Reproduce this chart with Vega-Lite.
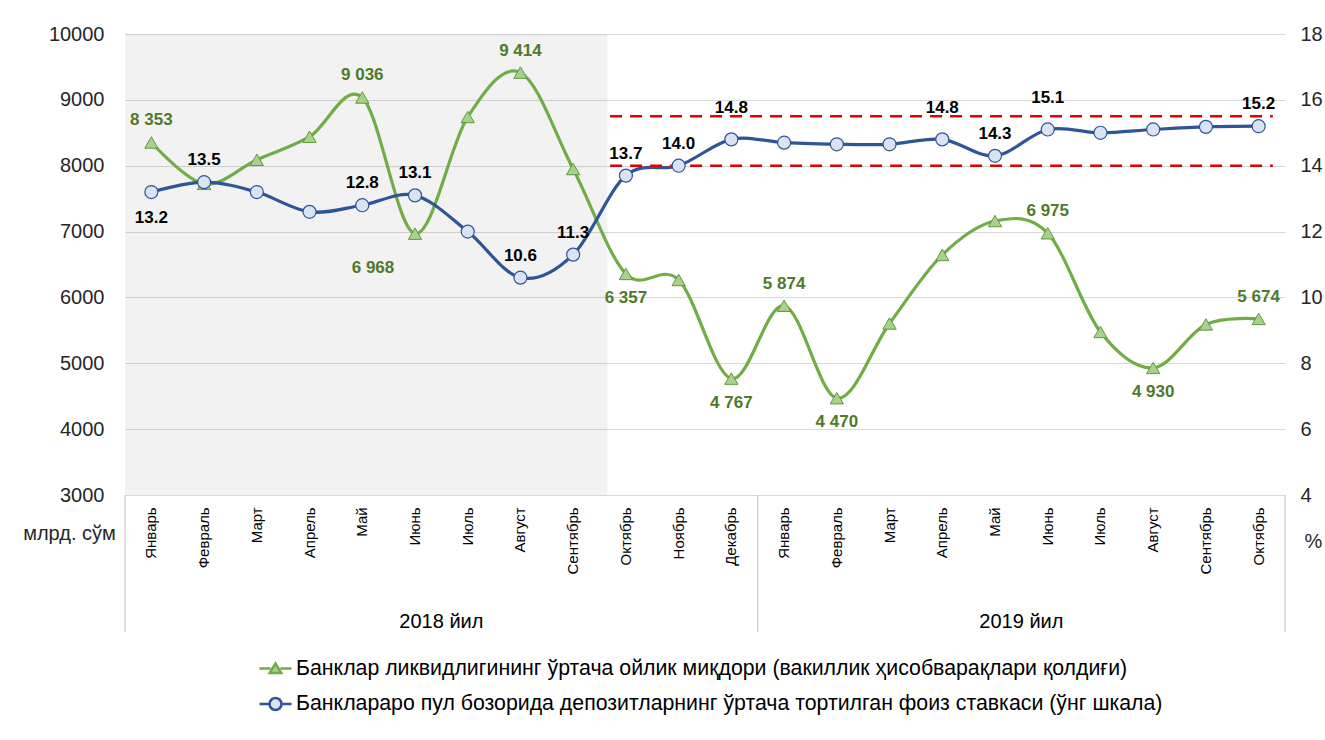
{
  "$schema": "https://vega.github.io/schema/vega-lite/v6.json",
  "background": "white",
  "padding": {"left": 22, "top": 24, "right": 0, "bottom": 0},
  "bounds": "flush",
  "spacing": 0,
  "config": {
    "locale": {"number": {"decimal": ".", "thousands": " ", "grouping": [3], "currency": ["", ""]}},
    "font": "Liberation Sans",
    "view": {"stroke": null}
  },
  "datasets": {
    "months": [
      {"i": 0, "m": "Январь", "yr": "2018 йил", "liq": 8353, "rate": 13.2},
      {"i": 1, "m": "Февраль", "yr": "2018 йил", "liq": 7725, "rate": 13.5},
      {"i": 2, "m": "Март", "yr": "2018 йил", "liq": 8090, "rate": 13.2},
      {"i": 3, "m": "Апрель", "yr": "2018 йил", "liq": 8440, "rate": 12.6},
      {"i": 4, "m": "Май", "yr": "2018 йил", "liq": 9036, "rate": 12.8},
      {"i": 5, "m": "Июнь", "yr": "2018 йил", "liq": 6968, "rate": 13.1},
      {"i": 6, "m": "Июль", "yr": "2018 йил", "liq": 8740, "rate": 12.0},
      {"i": 7, "m": "Август", "yr": "2018 йил", "liq": 9414, "rate": 10.6},
      {"i": 8, "m": "Сентябрь", "yr": "2018 йил", "liq": 7950, "rate": 11.3},
      {"i": 9, "m": "Октябрь", "yr": "2018 йил", "liq": 6357, "rate": 13.7},
      {"i": 10, "m": "Ноябрь", "yr": "2018 йил", "liq": 6265, "rate": 14.0},
      {"i": 11, "m": "Декабрь", "yr": "2018 йил", "liq": 4767, "rate": 14.8},
      {"i": 12, "m": "Январь", "yr": "2019 йил", "liq": 5874, "rate": 14.7},
      {"i": 13, "m": "Февраль", "yr": "2019 йил", "liq": 4470, "rate": 14.65},
      {"i": 14, "m": "Март", "yr": "2019 йил", "liq": 5605, "rate": 14.65},
      {"i": 15, "m": "Апрель", "yr": "2019 йил", "liq": 6645, "rate": 14.8},
      {"i": 16, "m": "Май", "yr": "2019 йил", "liq": 7160, "rate": 14.3},
      {"i": 17, "m": "Июнь", "yr": "2019 йил", "liq": 6975, "rate": 15.1},
      {"i": 18, "m": "Июль", "yr": "2019 йил", "liq": 5475, "rate": 15.0},
      {"i": 19, "m": "Август", "yr": "2019 йил", "liq": 4930, "rate": 15.1},
      {"i": 20, "m": "Сентябрь", "yr": "2019 йил", "liq": 5590, "rate": 15.18},
      {"i": 21, "m": "Октябрь", "yr": "2019 йил", "liq": 5674, "rate": 15.2}
    ],
    "shade": [{"from": -0.5, "to": 8.65}],
    "corridor": [{"lvl": 15.5, "from": 8.7, "to": 21.27}, {"lvl": 14.0, "from": 8.7, "to": 21.27}],
    "bounds": [{"b": -0.5}, {"b": 11.5}, {"b": 21.5}]
  },
  "vconcat": [
    {
      "width": 1160,
      "height": 461,
      "data": {"name": "months"},
      "layer": [
        {
          "layer": [
            {
              "data": {"name": "shade"},
              "mark": {"type": "rect", "fill": "#000000", "opacity": 0.05},
              "encoding": {
                "x": {"field": "from", "type": "quantitative", "scale": {"domain": [-0.5, 21.5], "nice": false, "zero": false}, "axis": null},
                "x2": {"field": "to"}
              }
            },
            {
              "mark": {"type": "line", "interpolate": "cardinal", "tension": 0, "strokeWidth": 3.2},
              "encoding": {
                "x": {"field": "i", "type": "quantitative", "scale": {"domain": [-0.5, 21.5], "nice": false, "zero": false}, "axis": null},
                "y": {
                  "field": "liq", "type": "quantitative",
                  "scale": {"domain": [3000, 10000], "nice": false, "zero": false},
                  "axis": {
                    "values": [3000, 4000, 5000, 6000, 7000, 8000, 9000, 10000],
                    "format": "d", "labelFontSize": 20, "labelPadding": 21, "labelColor": "#262626",
                    "labelFont": "Liberation Sans",
                    "ticks": false, "domain": false, "grid": true, "gridColor": "#D9D9D9", "gridWidth": 1,
                    "title": "млрд. сўм", "titleAngle": 0, "titleX": -56, "titleY": 499,
                    "titleAlign": "center", "titleBaseline": "middle", "titleFontSize": 20,
                    "titleFontWeight": "normal", "titleColor": "#262626", "titleFont": "Liberation Sans"
                  }
                },
                "color": {
                  "datum": "Банклар ликвидлигининг ўртача ойлик миқдори (вакиллик ҳисобварақлари қолдиғи)",
                  "type": "nominal",
                  "scale": {
                    "domain": [
                      "Банклар ликвидлигининг ўртача ойлик миқдори (вакиллик ҳисобварақлари қолдиғи)",
                      "Банклараро пул бозорида депозитларнинг ўртача тортилган фоиз ставкаси (ўнг шкала)"
                    ],
                    "range": ["#70AD47", "#2F5597"]
                  },
                  "legend": {
                    "orient": "none", "legendX": 139, "legendY": 623, "direction": "vertical", "title": null,
                    "symbolSize": 400, "labelFontSize": 21.3, "labelFont": "Liberation Sans", "labelColor": "#000000",
                    "labelOffset": 9, "rowPadding": 13.5, "labelLimit": 1300,
                    "encode": {
                      "symbols": {
                        "update": {
                          "shape": {"signal": "scale('color', datum.value) == '#70AD47' ? 'M-1.6,0H-0.5M0.5,0H1.6M0,-0.5L0.58,0.45L-0.58,0.45Z' : 'M-1.6,0H-0.6M0.6,0H1.6M0.6,0A0.6,0.6 0 1 1 -0.6,0A0.6,0.6 0 1 1 0.6,0Z'"},
                          "fill": {"signal": "scale('color', datum.value) == '#70AD47' ? '#A9D18E' : '#DAE3F3'"},
                          "stroke": {"signal": "scale('color', datum.value)"},
                          "strokeWidth": {"value": 2.5},
                          "opacity": {"value": 1}
                        }
                      }
                    }
                  }
                }
              }
            },
            {
              "mark": {"type": "point", "shape": "triangle-up", "filled": true, "fill": "#A9D18E", "stroke": "#5E9A3A", "strokeWidth": 1, "size": 175, "opacity": 1},
              "encoding": {
                "x": {"field": "i", "type": "quantitative"},
                "y": {"field": "liq", "type": "quantitative"}
              }
            },
            {
              "transform": [{"filter": {"field": "i", "oneOf": [0, 4, 7, 12, 17, 21]}}],
              "mark": {"type": "text", "fontSize": 17, "fontWeight": "bold", "color": "#4E7A2C", "baseline": "middle", "dy": -22},
              "encoding": {
                "x": {"field": "i", "type": "quantitative"},
                "y": {"field": "liq", "type": "quantitative"},
                "text": {"field": "liq", "type": "quantitative", "format": ",.0f"}
              }
            },
            {
              "transform": [{"filter": {"field": "i", "oneOf": [9, 11, 13, 19]}}],
              "mark": {"type": "text", "fontSize": 17, "fontWeight": "bold", "color": "#4E7A2C", "baseline": "middle", "dy": 24},
              "encoding": {
                "x": {"field": "i", "type": "quantitative"},
                "y": {"field": "liq", "type": "quantitative"},
                "text": {"field": "liq", "type": "quantitative", "format": ",.0f"}
              }
            },
            {
              "transform": [{"filter": {"field": "i", "oneOf": [5]}}],
              "mark": {"type": "text", "fontSize": 17, "fontWeight": "bold", "color": "#4E7A2C", "baseline": "middle", "dy": 34, "dx": -42},
              "encoding": {
                "x": {"field": "i", "type": "quantitative"},
                "y": {"field": "liq", "type": "quantitative"},
                "text": {"field": "liq", "type": "quantitative", "format": ",.0f"}
              }
            }
          ]
        },
        {
          "layer": [
            {
              "mark": {"type": "line", "interpolate": "cardinal", "tension": 0, "strokeWidth": 3.2},
              "encoding": {
                "x": {"field": "i", "type": "quantitative"},
                "y": {
                  "field": "rate", "type": "quantitative",
                  "scale": {"domain": [4, 18], "nice": false, "zero": false},
                  "axis": {
                    "orient": "right",
                    "values": [4, 6, 8, 10, 12, 14, 16, 18],
                    "format": "d", "labelFontSize": 20, "labelPadding": 15, "labelColor": "#262626",
                    "labelFont": "Liberation Sans",
                    "ticks": false, "domain": false, "grid": false,
                    "title": "%", "titleAngle": 0, "titleX": 28, "titleY": 507,
                    "titleAlign": "center", "titleBaseline": "middle", "titleFontSize": 20,
                    "titleFontWeight": "normal", "titleColor": "#262626", "titleFont": "Liberation Sans"
                  }
                },
                "color": {"datum": "Банклараро пул бозорида депозитларнинг ўртача тортилган фоиз ставкаси (ўнг шкала)", "type": "nominal"}
              }
            },
            {
              "data": {"name": "corridor"},
              "mark": {"type": "rule", "color": "#E00000", "strokeWidth": 2.5, "strokeDash": [12, 8]},
              "encoding": {
                "x": {"field": "from", "type": "quantitative"},
                "x2": {"field": "to"},
                "y": {"field": "lvl", "type": "quantitative"}
              }
            },
            {
              "mark": {"type": "point", "shape": "circle", "filled": true, "fill": "#DAE3F3", "stroke": "#2F5597", "strokeWidth": 1.2, "size": 170, "opacity": 1},
              "encoding": {
                "x": {"field": "i", "type": "quantitative"},
                "y": {"field": "rate", "type": "quantitative"}
              }
            },
            {
              "transform": [{"filter": {"field": "i", "oneOf": [1, 4, 5, 7, 8, 9, 10, 16, 21]}}],
              "mark": {"type": "text", "fontSize": 17, "fontWeight": "bold", "color": "#000000", "baseline": "middle", "dy": -22},
              "encoding": {
                "x": {"field": "i", "type": "quantitative"},
                "y": {"field": "rate", "type": "quantitative"},
                "text": {"field": "rate", "type": "quantitative", "format": ".1f"}
              }
            },
            {
              "transform": [{"filter": {"field": "i", "oneOf": [11, 15, 17]}}],
              "mark": {"type": "text", "fontSize": 17, "fontWeight": "bold", "color": "#000000", "baseline": "middle", "dy": -31},
              "encoding": {
                "x": {"field": "i", "type": "quantitative"},
                "y": {"field": "rate", "type": "quantitative"},
                "text": {"field": "rate", "type": "quantitative", "format": ".1f"}
              }
            },
            {
              "transform": [{"filter": {"field": "i", "oneOf": [0]}}],
              "mark": {"type": "text", "fontSize": 17, "fontWeight": "bold", "color": "#000000", "baseline": "middle", "dy": 26},
              "encoding": {
                "x": {"field": "i", "type": "quantitative"},
                "y": {"field": "rate", "type": "quantitative"},
                "text": {"field": "rate", "type": "quantitative", "format": ".1f"}
              }
            }
          ]
        }
      ],
      "resolve": {"scale": {"y": "independent"}}
    },
    {
      "width": 1160,
      "height": 137,
      "layer": [
        {
          "data": {"name": "bounds"},
          "mark": {"type": "rule", "color": "#BFBFBF", "strokeWidth": 1},
          "encoding": {
            "x": {"field": "b", "type": "quantitative", "scale": {"domain": [-0.5, 21.5], "nice": false, "zero": false}, "axis": null}
          }
        },
        {
          "data": {"name": "months"},
          "mark": {"type": "text", "angle": 270, "align": "right", "baseline": "middle", "fontSize": 15, "color": "#000000"},
          "encoding": {
            "x": {"field": "i", "type": "quantitative", "scale": {"domain": [-0.5, 21.5], "nice": false, "zero": false}, "axis": null},
            "y": {"datum": 9.1, "type": "quantitative", "scale": {"domain": [0, 10], "nice": false, "zero": false}, "axis": null},
            "text": {"field": "m"}
          }
        },
        {
          "data": {"name": "months"},
          "transform": [{"aggregate": [{"op": "mean", "field": "i", "as": "c"}], "groupby": ["yr"]}],
          "mark": {"type": "text", "baseline": "middle", "fontSize": 20, "color": "#000000"},
          "encoding": {
            "x": {"field": "c", "type": "quantitative"},
            "y": {"datum": 0.73, "type": "quantitative"},
            "text": {"field": "yr"}
          }
        }
      ]
    }
  ]
}
